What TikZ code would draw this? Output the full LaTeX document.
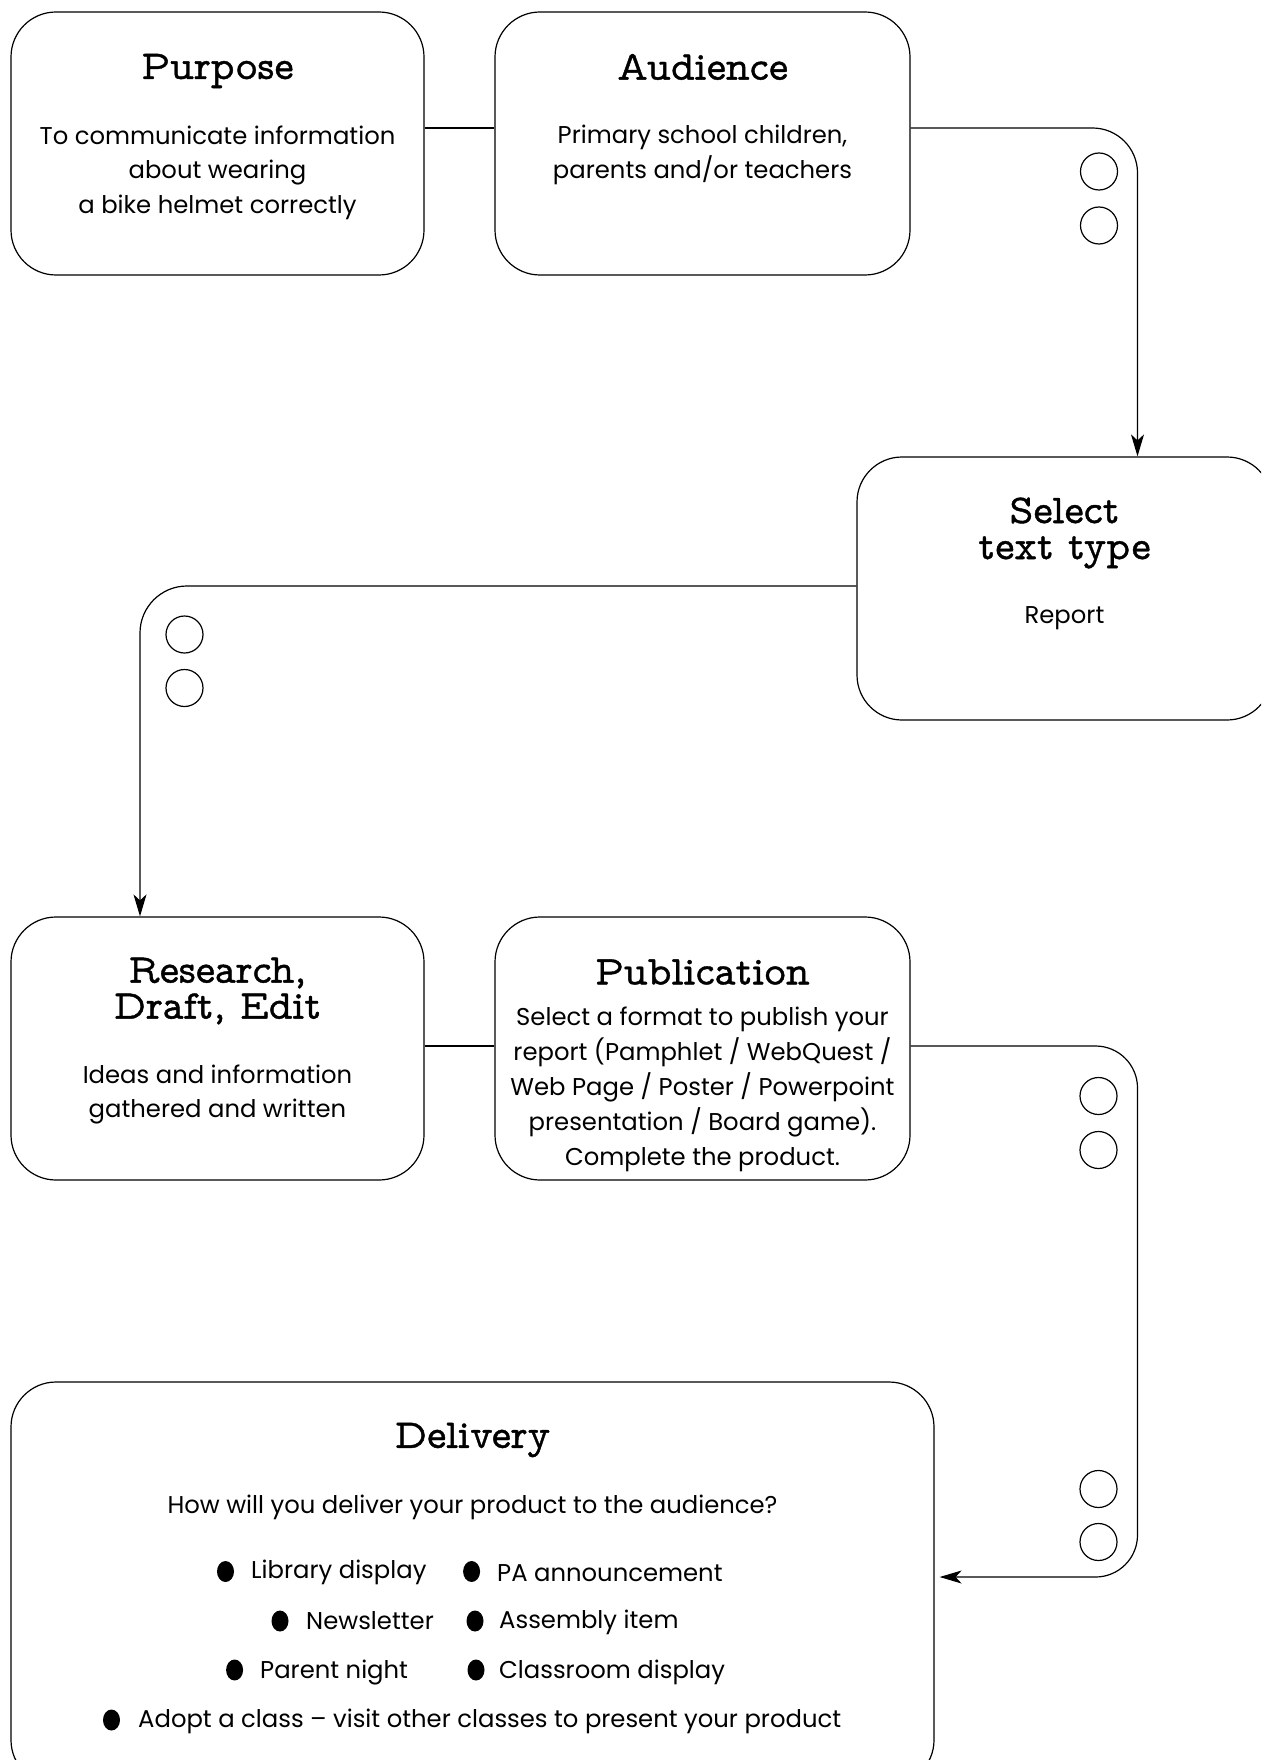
\documentclass[tikz,border=0pt]{standalone}
\usepackage{fontspec}
\newfontfamily\bodyf{Poppins}
\newfontfamily\ttlf{Latin Modern Mono Prop}[FakeBold=1]
\usetikzlibrary{arrows.meta}
\tikzset{
  box/.style={draw, line width=1.2pt, rounded corners=45pt, inner sep=0pt},
  ttl/.style={font=\ttlf\fontsize{41}{36}\selectfont, align=center, inner sep=0pt},
  bdy/.style={font=\bodyf\fontsize{24.3}{34.5}\selectfont, align=center, inner sep=0pt},
  itm/.style={font=\bodyf\fontsize{24.3}{30}\selectfont, anchor=west, inner sep=0pt},
  hole/.style={draw, circle, line width=1.2pt, minimum size=37pt, inner sep=0pt},
  conn/.style={line width=1.2pt},
  arr/.style={line width=1.2pt, -{Stealth[length=22pt,width=13pt,inset=6pt]}}
}
\begin{document}
\begin{tikzpicture}[x=1pt,y=-1pt]
\useasboundingbox (0,0) rectangle (1261,1760);
\clip (0,0) rectangle (1261,1760);
% boxes
\node[box, minimum width=413pt, minimum height=263pt] (pur) at (217.5,143.5) {};
\node[box, minimum width=415pt, minimum height=263pt] (aud) at (702.5,143.5) {};
\node[box, minimum width=415pt, minimum height=263pt] (sel) at (1064.5,588.5) {};
\node[box, minimum width=413pt, minimum height=263pt] (res) at (217.5,1048.5) {};
\node[box, minimum width=415pt, minimum height=263pt] (pub) at (702.5,1048.5) {};
\node[box, minimum width=923pt, minimum height=403pt] (del) at (472.5,1583.5) {};
% texts
\node[ttl] (purT) at (217.5,71) {Purpose};
\node[bdy] (purB) at (217.5,172.5) {To communicate information\\about wearing\\a bike helmet correctly};
\node[ttl] (audT) at (702.5,67) {Audience};
\node[bdy] (audB) at (702.5,155) {Primary school children,\\parents and/or teachers};
\node[ttl] (selT) at (1064.5,533) {Select\\text type};
\node[bdy] (selB) at (1064.5,618) {Report};
\node[ttl] (resT) at (217.5,991) {Research,\\Draft, Edit};
\node[bdy] (resB) at (217.5,1094.5) {Ideas and information\\gathered and written};
\node[ttl] (pubT) at (702.5,972) {Publication};
\node[bdy, font=\bodyf\fontsize{24.3}{35}\selectfont] (pubB) at (702.5,1089.5) {Select a format to publish your\\report (Pamphlet / WebQuest /\\Web Page / Poster / Powerpoint\\presentation / Board game).\\Complete the product.};
\node[ttl] (delT) at (472.5,1440) {Delivery};
\node[bdy] (delQ) at (472.5,1507.5) {How will you deliver your product to the audience?};
% bullet items
\node[itm] (i1) at (251,1572.5) {Library display};
\node[itm] (i2) at (497,1573.5) {PA announcement};
\node[itm] (i3) at (306,1620.5) {Newsletter};
\node[itm] (i4) at (499,1622.5) {Assembly item};
\node[itm] (i5) at (260,1672.5) {Parent night};
\node[itm] (i6) at (499,1672.5) {Classroom display};
\node[itm] (i7) at (138,1721.5) {Adopt a class – visit other classes to present your product};
\foreach \bx/\by in {225.5/1571.5, 471.6/1571.5, 280/1621, 475/1621, 234.6/1670, 476/1670, 111.5/1720}
  \fill (\bx,\by) ellipse (8.5pt and 10.5pt);
% holes
\node[hole] (h1) at (1099,171.5) {};
\node[hole] (h2) at (1099,225.5) {};
\node[hole] (h3) at (184.5,634.5) {};
\node[hole] (h4) at (184.5,688) {};
\node[hole] (h5) at (1098.5,1096) {};
\node[hole] (h6) at (1098.5,1150) {};
\node[hole] (h7) at (1098.5,1489) {};
\node[hole] (h8) at (1098.5,1542) {};
% connectors
\draw[conn] ([yshift=15.5pt]pur.east) -- ([yshift=15.5pt]aud.west);
\draw[conn] ([yshift=2.5pt]res.east) -- ([yshift=2.5pt]pub.west);
\draw[arr, rounded corners=45pt] ([yshift=15.5pt]aud.east) -| ([xshift=73pt]sel.north);
\draw[arr, rounded corners=47pt] ([yshift=2.5pt]sel.west) -| ([xshift=-77.5pt]res.north);
\coordinate (bend) at (1137.5,1300);
\draw[arr, rounded corners=42pt, shorten >=5pt] ([yshift=2.5pt]pub.east) -| (bend) |- ([yshift=6.5pt]del.east);
\end{tikzpicture}
\end{document}
